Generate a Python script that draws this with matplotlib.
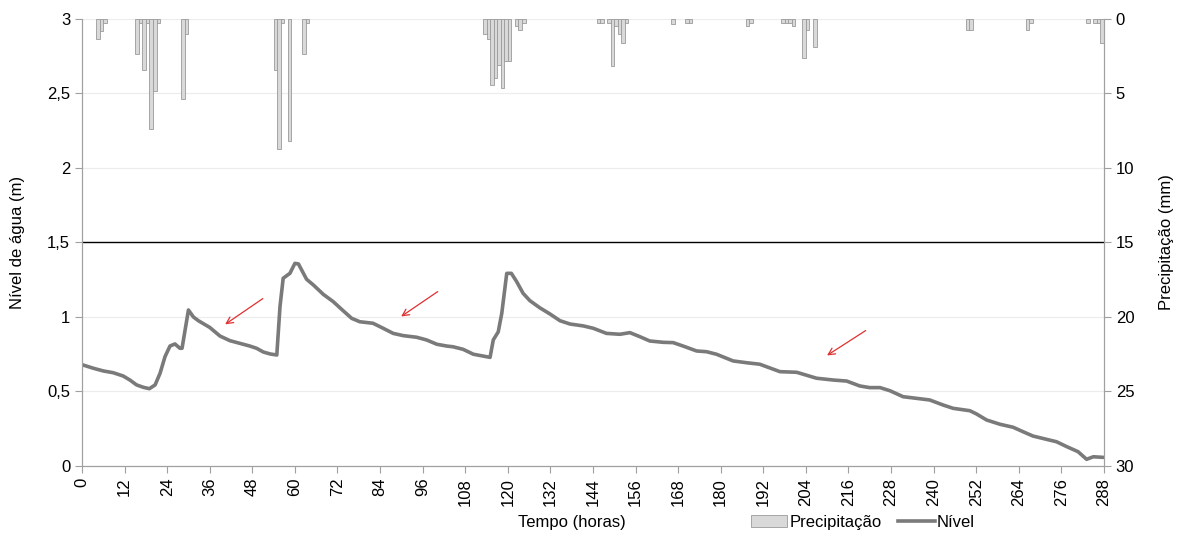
import matplotlib
matplotlib.use("Agg")
import matplotlib.pyplot as plt
from matplotlib.patches import Patch
from matplotlib.lines import Line2D
from matplotlib.ticker import FuncFormatter

plt.rcParams["font.family"] = ["Liberation Sans", "DejaVu Sans"]

# ── Data ─────────────────────────────────────────────────────────────────────
rain_hours = [4, 5, 6, 15, 16, 17, 18, 19, 20, 21, 28, 29,
              54, 55, 56, 58, 62, 63,
              113, 114, 115, 116, 117, 118, 119, 120, 122, 123, 124,
              145, 146, 148, 149, 150, 151, 152, 153,
              166, 170, 171, 187, 188,
              197, 198, 199, 200, 203, 204, 206,
              249, 250, 266, 267, 283, 285, 286, 287]
rain_mm = [1.35, 0.8, 0.3, 2.35, 0.3, 3.4, 0.3, 7.4, 4.85, 0.3, 5.4, 1.0,
           3.4, 8.7, 0.3, 8.2, 2.35, 0.3,
           1.0, 1.35, 4.4, 3.95, 3.1, 4.6, 2.85, 2.85, 0.5, 0.75, 0.3,
           0.3, 0.3, 0.3, 3.15, 0.5, 1.0, 1.6, 0.3,
           0.35, 0.3, 0.3, 0.5, 0.3,
           0.3, 0.3, 0.3, 0.5, 2.6, 0.75, 1.85,
           0.75, 0.75, 0.75, 0.3, 0.3, 0.3, 0.3, 1.6]

level_hours = [0, 3.2, 6, 8.8, 11.6, 13.5, 15.4, 17.3, 19, 20.6, 22, 23.4,
               24.8, 26.2, 27.6, 28.2, 30, 31.4, 32.8, 36, 38.9, 41.7, 44.5,
               47.3, 49.2, 51.1, 53, 54.9, 55.8, 56.7, 58.6, 60, 61, 62.4,
               63.3, 65.2, 68, 70.8, 73.6, 76, 78.3, 82, 84.9, 87.7, 90.5,
               94.3, 97.1, 100, 102.8, 104.6, 107.4, 110.3, 115, 115.9,
               117.3, 118.3, 119.7, 121, 122.5, 124.3, 126.2, 129, 131.9,
               134.7, 137.5, 141.3, 144.1, 147.8, 151.6, 154.4, 157.2, 160,
               163.8, 166.6, 169.4, 173.2, 176, 178.8, 183.5, 187.3, 191,
               196.7, 201.4, 207, 211.7, 215.5, 219.2, 222, 224.9, 227.7,
               231.4, 235.2, 238.9, 242.7, 245.5, 250.2, 252.1, 254.9, 258.7,
               262.4, 265.2, 268, 271.8, 274.6, 277.5, 280.7, 283.1, 285, 287.8]
level_m = [0.68, 0.656, 0.638, 0.626, 0.604, 0.577, 0.544, 0.528, 0.519,
           0.544, 0.622, 0.734, 0.805, 0.819, 0.79, 0.79, 1.047, 1.0, 0.975,
           0.93, 0.872, 0.841, 0.823, 0.805, 0.79, 0.765, 0.752, 0.745,
           1.07, 1.26, 1.293, 1.36, 1.356, 1.293, 1.253, 1.215, 1.152,
           1.103, 1.042, 0.991, 0.968, 0.958, 0.924, 0.89, 0.875, 0.864,
           0.846, 0.817, 0.805, 0.80, 0.783, 0.75, 0.729, 0.846, 0.90,
           1.025, 1.293, 1.293, 1.237, 1.159, 1.11, 1.062, 1.02, 0.975,
           0.953, 0.94, 0.924, 0.89, 0.884, 0.895, 0.868, 0.839, 0.83,
           0.828, 0.805, 0.772, 0.767, 0.75, 0.705, 0.693, 0.683, 0.633,
           0.629, 0.589, 0.577, 0.57, 0.537, 0.526, 0.526, 0.505, 0.465,
           0.454, 0.443, 0.409, 0.387, 0.371, 0.349, 0.309, 0.28, 0.26,
           0.23, 0.201, 0.179, 0.163, 0.13, 0.096, 0.045, 0.062, 0.058]

# arrows: (tail hour, tail level, head hour, head level)
arrows = [(51.6, 1.134, 39.7, 0.94),
          (100.9, 1.181, 89.3, 0.993),
          (221.5, 0.919, 209.3, 0.732)]

x_ticks = list(range(0, 289, 12))
threshold = 1.5

# ── Plot ─────────────────────────────────────────────────────────────────────
fig = plt.figure(figsize=(11.83, 5.36), dpi=100)
ax1 = fig.add_axes([0.0693, 0.1306, 0.8639, 0.834])
ax2 = ax1.twinx()

gray_spine = "#a0a0a0"
line_col = "#7a7a7a"

ax1.plot(level_hours, level_m, color=line_col, linewidth=2.6,
         solid_capstyle="round", solid_joinstyle="round", zorder=3)
ax1.axhline(threshold, color="black", linewidth=1.0, zorder=2)
for tx, ty, hx, hy in arrows:
    ax1.annotate("", xy=(hx, hy), xytext=(tx, ty),
                 arrowprops=dict(arrowstyle="->", color="#e03030", lw=0.9,
                                 mutation_scale=12))

ax1.set_xlim(0, 288)
ax1.set_ylim(0, 3)
ax1.set_xticks(x_ticks)
ax1.set_xticklabels([str(t) for t in x_ticks], rotation=90)
ax1.set_yticks([0, 0.5, 1, 1.5, 2, 2.5, 3])
ax1.yaxis.set_major_formatter(FuncFormatter(
    lambda v, p: (f"{v:g}").replace(".", ",")))
ax1.grid(axis="y", color="#ececec", linewidth=0.8, zorder=0)
ax1.set_axisbelow(True)
ax1.set_ylabel("Nível de água (m)", fontsize=12, labelpad=16)

ax2.bar(rain_hours, rain_mm, width=1.0, align="edge", color="#d9d9d9",
        edgecolor="#9a9a9a", linewidth=0.6)
ax2.set_ylim(30, 0)
ax2.set_yticks(range(0, 31, 5))
ax2.set_ylabel("Precipitação (mm)", fontsize=12, labelpad=18)

for ax in (ax1, ax2):
    ax.spines["top"].set_visible(False)
    for s in ("left", "right", "bottom"):
        ax.spines[s].set_color(gray_spine)
    ax.tick_params(colors="black", labelsize=12, length=5,
                   width=0.8, color=gray_spine)

fig.text(0.4835, 0.026, "Tempo (horas)", ha="center", va="center",
         fontsize=12)
handles = [Patch(facecolor="#d9d9d9", edgecolor="#9a9a9a", linewidth=0.6),
           Line2D([0], [0], color=line_col, linewidth=2.6)]
fig.legend(handles, ["Precipitação", "Nível"], loc="center left",
           bbox_to_anchor=(0.622, 0.026), ncol=2, frameon=False,
           fontsize=12, handlelength=2.2, handletextpad=0.1,
           columnspacing=1.0)

fig.savefig("out.png", dpi=100)
